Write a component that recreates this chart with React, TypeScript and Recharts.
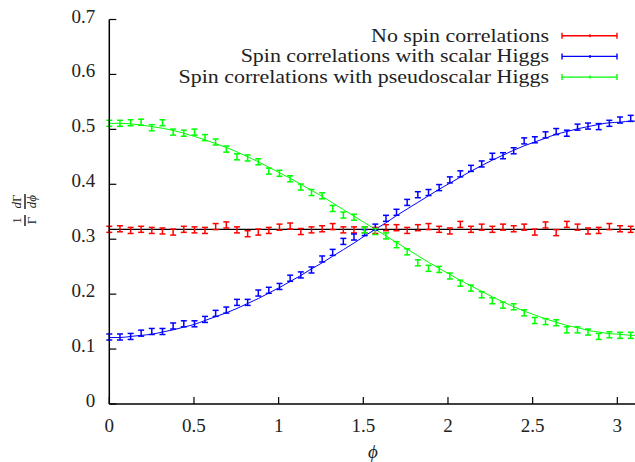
import React from "react";
import {
  ComposedChart,
  XAxis,
  YAxis,
  Line,
  Scatter,
  ErrorBar,
  ReferenceLine,
} from "recharts";

// bin centres (phi)
const PHI = [
  0, 0.063, 0.126, 0.188, 0.251, 0.314, 0.377, 0.44, 0.503, 0.565,
  0.628, 0.691, 0.754, 0.817, 0.88, 0.942, 1.005, 1.068, 1.131, 1.194,
  1.257, 1.319, 1.382, 1.445, 1.508, 1.571, 1.634, 1.696, 1.759, 1.822,
  1.885, 1.948, 2.011, 2.073, 2.136, 2.199, 2.262, 2.325, 2.388, 2.45,
  2.513, 2.576, 2.639, 2.702, 2.765, 2.827, 2.89, 2.953, 3.016, 3.079,
];

const NO_SPIN = [
  0.318, 0.319, 0.316, 0.318, 0.316, 0.315, 0.313, 0.318, 0.317, 0.316,
  0.323, 0.326, 0.317, 0.31, 0.313, 0.316, 0.322, 0.324, 0.314, 0.317,
  0.319, 0.323, 0.317, 0.317, 0.317, 0.316, 0.321, 0.321, 0.316, 0.321,
  0.323, 0.318, 0.315, 0.327, 0.318, 0.322, 0.318, 0.322, 0.319, 0.322,
  0.313, 0.326, 0.312, 0.327, 0.322, 0.315, 0.316, 0.323, 0.319, 0.318,
];

const SCALAR = [
  0.122, 0.122, 0.123, 0.129, 0.132, 0.132, 0.142, 0.146, 0.146, 0.154,
  0.165, 0.171, 0.185, 0.185, 0.202, 0.207, 0.214, 0.229, 0.235, 0.244,
  0.264, 0.276, 0.296, 0.304, 0.312, 0.322, 0.338, 0.349, 0.367, 0.381,
  0.385, 0.394, 0.408, 0.419, 0.429, 0.437, 0.451, 0.452, 0.461, 0.479,
  0.481, 0.49, 0.496, 0.493, 0.504, 0.506, 0.505, 0.511, 0.517, 0.52,
];

const PSEUDO = [
  0.511, 0.511, 0.512, 0.513, 0.503, 0.512, 0.495, 0.493, 0.495, 0.485,
  0.477, 0.464, 0.45, 0.448, 0.441, 0.424, 0.42, 0.41, 0.395, 0.385,
  0.379, 0.356, 0.344, 0.34, 0.317, 0.314, 0.306, 0.29, 0.277, 0.257,
  0.247, 0.245, 0.233, 0.22, 0.211, 0.199, 0.188, 0.18, 0.177, 0.166,
  0.152, 0.15, 0.148, 0.135, 0.135, 0.131, 0.123, 0.126, 0.125, 0.125,
];

const ERR = 0.0055;

// fitted curves, same bins plus the end point at pi
const FIT_PHI = [...PHI, 3.1416];
const SCALAR_FIT = [
  0.121, 0.121, 0.123, 0.125, 0.127, 0.131, 0.135, 0.14, 0.145, 0.152,
  0.159, 0.166, 0.174, 0.183, 0.192, 0.202, 0.212, 0.223, 0.234, 0.246,
  0.257, 0.269, 0.281, 0.293, 0.306, 0.318, 0.33, 0.343, 0.355, 0.367,
  0.379, 0.391, 0.402, 0.413, 0.424, 0.434, 0.444, 0.453, 0.462, 0.47,
  0.477, 0.484, 0.491, 0.496, 0.501, 0.505, 0.509, 0.512, 0.513, 0.515,
  0.515,
];
const PSEUDO_FIT = [
  0.511, 0.511, 0.51, 0.508, 0.505, 0.502, 0.498, 0.493, 0.487, 0.481,
  0.474, 0.467, 0.459, 0.45, 0.441, 0.431, 0.421, 0.411, 0.4, 0.389,
  0.378, 0.366, 0.354, 0.342, 0.33, 0.318, 0.306, 0.294, 0.282, 0.27,
  0.258, 0.247, 0.236, 0.225, 0.215, 0.205, 0.195, 0.186, 0.177, 0.169,
  0.162, 0.155, 0.149, 0.143, 0.139, 0.134, 0.131, 0.128, 0.127, 0.125,
  0.125,
];
const NO_SPIN_LEVEL = 0.318;

const X_TICKS = [0, 0.5, 1, 1.5, 2, 2.5, 3];
const Y_TICKS = [0, 0.1, 0.2, 0.3, 0.4, 0.5, 0.6, 0.7];

const LEGEND = [
  { label: "No spin correlations", color: "#ff0000" },
  { label: "Spin correlations with scalar Higgs", color: "#0000ff" },
  { label: "Spin correlations with pseudoscalar Higgs", color: "#00ff00" },
];

const FONT = "Liberation Serif";

const pointRows = PHI.map((x, i) => ({
  x,
  noSpin: NO_SPIN[i],
  scalar: SCALAR[i],
  pseudo: PSEUDO[i],
  err: ERR,
}));

const fitRows = FIT_PHI.map((x, i) => ({
  x,
  scalarFit: SCALAR_FIT[i],
  pseudoFit: PSEUDO_FIT[i],
}));

function BottomTick({ x, y, payload }: any) {
  return (
    <g>
      <line x1={x} y1={y} x2={x} y2={y - 7} stroke="#000" strokeWidth={1.2} />
      <text x={x} y={y + 27.5} textAnchor="middle" fontFamily={FONT} fontSize={19} fill="#222">
        {payload.value}
      </text>
    </g>
  );
}

function TopTick({ x, y }: any) {
  return <line x1={x} y1={y} x2={x} y2={y + 7} stroke="#000" strokeWidth={1.2} />;
}

function LeftTick({ x, y, payload }: any) {
  return (
    <g>
      <line x1={x} y1={y} x2={x + 7} y2={y} stroke="#000" strokeWidth={1.2} />
      <text x={x - 14} y={y + 3} textAnchor="end" fontFamily={FONT} fontSize={19} fill="#222">
        {payload.value}
      </text>
    </g>
  );
}

const NoDot = () => <g />;

function Overlay() {
  return (
    <svg
      width={635}
      height={462}
      style={{ position: "absolute", left: 0, top: 0, pointerEvents: "none" }}
    >
      {LEGEND.map((e, i) => {
        const cy = 35.7 + i * 20.7;
        return (
          <g key={e.label}>
            {/* computer-modern is wider than times, stretch a bit */}
            <text
              transform={`translate(549, ${cy + 6}) scale(1.156, 1)`}
              textAnchor="end"
              fontFamily={FONT}
              fontSize={19}
              fill="#222"
            >
              {e.label}
            </text>
            <line x1={562} y1={cy} x2={617} y2={cy} stroke={e.color} strokeWidth={1.4} />
            <line x1={562} y1={cy - 3} x2={562} y2={cy + 3} stroke={e.color} strokeWidth={1.4} />
            <line x1={617} y1={cy - 3} x2={617} y2={cy + 3} stroke={e.color} strokeWidth={1.4} />
            <line x1={590} y1={cy - 1.5} x2={590} y2={cy + 1.5} stroke={e.color} strokeWidth={1.4} />
          </g>
        );
      })}
      <g transform="translate(25,210) rotate(-90)" fontFamily={FONT} fontSize={13} fill="#222">
        <text x={-10.5} y={-4} textAnchor="middle">1</text>
        <line x1={-16} y1={0} x2={-5} y2={0} stroke="#000" strokeWidth={1.3} />
        <text x={-10.5} y={11} textAnchor="middle">Γ</text>
        <text x={8.5} y={-4} textAnchor="middle">
          <tspan fontStyle="italic">d</tspan>Γ
        </text>
        <line x1={1} y1={0} x2={16} y2={0} stroke="#000" strokeWidth={1.3} />
        <text x={8.5} y={11} textAnchor="middle" fontStyle="italic">dϕ</text>
      </g>
      <text x={373} y={458} textAnchor="middle" fontFamily={FONT} fontSize={19} fontStyle="italic" fill="#222">
        ϕ
      </text>
    </svg>
  );
}

export default function App() {
  return (
    <div
      style={{
        position: "absolute",
        left: 0,
        top: 0,
        width: 635,
        height: 462,
        overflow: "hidden",
        background: "#fff",
      }}
    >
      <ComposedChart
        width={660}
        height={462}
        data={fitRows}
        margin={{ top: 19.5, right: 18.7, bottom: 0, left: 0 }}
      >
        <XAxis
          dataKey="x"
          type="number"
          domain={[0, 3.1416]}
          allowDataOverflow
          ticks={X_TICKS}
          tick={<BottomTick />}
          tickSize={0}
          tickMargin={0}
          tickLine={false}
          height={58}
          axisLine={{ stroke: "#000", strokeWidth: 1.5 }}
        />
        <XAxis
          xAxisId="top"
          orientation="top"
          dataKey="x"
          type="number"
          domain={[0, 3.1416]}
          allowDataOverflow
          ticks={X_TICKS}
          tick={<TopTick />}
          tickSize={0}
          tickMargin={0}
          tickLine={false}
          height={0}
          axisLine={{ stroke: "#000", strokeWidth: 1.5 }}
        />
        <YAxis
          type="number"
          domain={[0, 0.7]}
          allowDataOverflow
          ticks={Y_TICKS}
          tick={<LeftTick />}
          tickSize={0}
          tickMargin={0}
          tickLine={false}
          width={109.3}
          axisLine={{ stroke: "#000", strokeWidth: 1.5 }}
        />
        <ReferenceLine y={NO_SPIN_LEVEL} stroke="#000" strokeWidth={1.2} />
        <Line
          dataKey="scalarFit"
          type="monotone"
          stroke="#0000ff"
          strokeWidth={1}
          dot={false}
          activeDot={false}
          isAnimationActive={false}
        />
        <Line
          dataKey="pseudoFit"
          type="monotone"
          stroke="#00ff00"
          strokeWidth={1}
          dot={false}
          activeDot={false}
          isAnimationActive={false}
        />
        <Scatter data={pointRows} dataKey="noSpin" fill="#ff0000" shape={NoDot} isAnimationActive={false}>
          <ErrorBar dataKey="err" direction="y" width={3} stroke="#ff0000" strokeWidth={1.5} />
        </Scatter>
        <Scatter data={pointRows} dataKey="scalar" fill="#0000ff" shape={NoDot} isAnimationActive={false}>
          <ErrorBar dataKey="err" direction="y" width={3} stroke="#0000ff" strokeWidth={1.5} />
        </Scatter>
        <Scatter data={pointRows} dataKey="pseudo" fill="#00ff00" shape={NoDot} isAnimationActive={false}>
          <ErrorBar dataKey="err" direction="y" width={3} stroke="#00ff00" strokeWidth={1.5} />
        </Scatter>
      </ComposedChart>
      <Overlay />
    </div>
  );
}
